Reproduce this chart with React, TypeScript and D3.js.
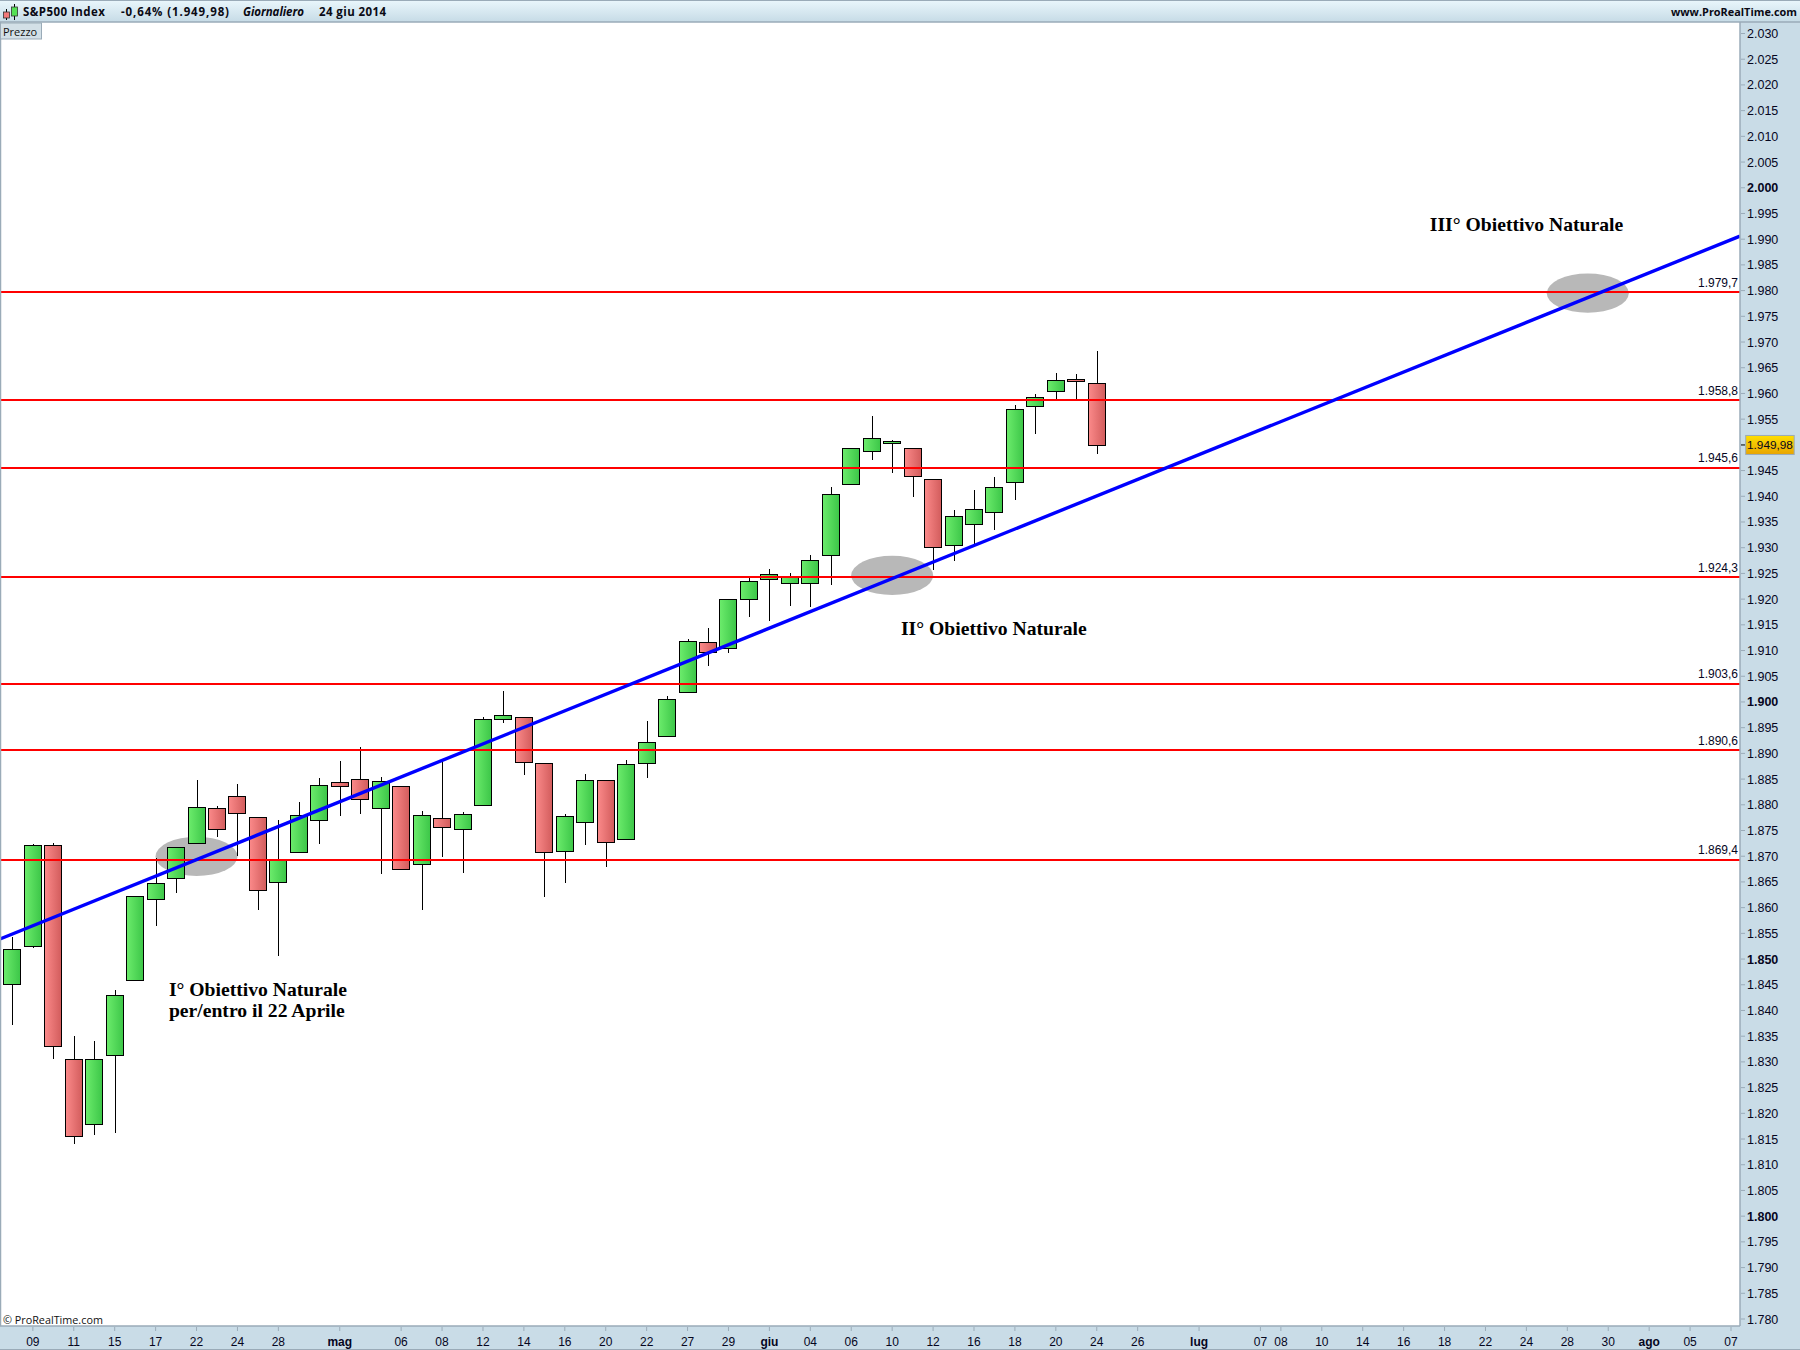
import React from "react";
import * as d3 from "d3";

const W = 1800, H = 1350;

// [open, high, low, close]
const candles: number[][] = [
  [1845.2,1854.35,1837.2,1851.9],[1852.5,1872.3,1852.2,1872.1],[1872.1,1872.5,1830.6,1833.0],
  [1830.5,1835.0,1814.1,1815.5],[1818.0,1834.1,1815.7,1830.5],[1831.3,1844.0,1816.1,1843.0],
  [1845.9,1862.2,1845.9,1862.2],[1861.6,1869.6,1856.5,1864.7],[1865.7,1871.7,1862.9,1871.7],
  [1872.5,1884.8,1872.5,1879.5],[1879.3,1879.7,1873.8,1875.2],[1881.8,1884.0,1870.1,1878.5],
  [1877.6,1877.6,1859.6,1863.4],[1864.9,1877.0,1850.5,1869.2],[1870.8,1880.5,1870.8,1878.1],
  [1877.0,1885.2,1872.4,1883.8],[1884.4,1888.5,1877.8,1883.6],[1885.1,1891.2,1878.3,1881.1],
  [1879.3,1885.4,1866.6,1884.6],[1883.6,1883.6,1867.6,1867.6],[1868.4,1878.8,1859.6,1878.1],
  [1877.4,1889.0,1869.9,1875.6],[1875.2,1878.6,1866.8,1878.3],[1879.9,1897.1,1879.9,1896.6],
  [1896.6,1902.1,1896.0,1897.4],[1897.0,1897.0,1885.7,1888.4],[1888.1,1888.1,1862.1,1870.8],
  [1871.1,1878.2,1864.7,1877.8],[1876.6,1886.0,1872.2,1884.9],[1884.8,1884.8,1868.0,1872.7],
  [1873.3,1888.7,1873.3,1887.9],[1888.1,1896.3,1885.3,1892.3],[1893.3,1901.2,1893.3,1900.5],
  [1901.9,1912.2,1901.9,1911.8],[1911.6,1914.3,1907.0,1909.7],[1910.4,1919.95,1909.6,1919.95],
  [1920.1,1924.2,1916.6,1923.5],[1923.9,1925.9,1915.8,1924.8],[1923.1,1925.1,1918.7,1924.3],
  [1923.1,1928.6,1918.5,1927.7],[1928.5,1941.8,1922.8,1940.4],[1942.3,1949.3,1942.3,1949.3],
  [1948.9,1955.6,1947.1,1951.3],[1950.3,1950.9,1944.6,1950.7],[1949.3,1949.3,1939.9,1943.9],
  [1943.3,1943.3,1925.7,1930.1],[1930.6,1937.3,1927.5,1936.1],[1934.7,1941.2,1930.6,1937.6],
  [1937.0,1943.7,1933.4,1941.9],[1942.7,1957.7,1939.2,1956.9],[1957.5,1959.8,1952.2,1959.4],
  [1960.4,1964.0,1959.0,1962.7],[1962.9,1963.8,1959.0,1962.5],[1962.0,1968.3,1948.3,1949.98],
];

const levels = [1979.7, 1958.8, 1945.6, 1924.3, 1903.6, 1890.6, 1869.4];
const levelLabels = ["1.979,7", "1.958,8", "1.945,6", "1.924,3", "1.903,6", "1.890,6", "1.869,4"];

const trendStart = { i: -0.606, v: 1853.9 };
const trendEnd = { i: 84.44, v: 1990.6 };

const targetIdx = [9, 43, 77];
const targetVal = [1869.95, 1924.6, 1979.5];

const dateIdx = [1,3,5,7,9,11,13,16,19,21,23,25,27,29,31,33,35,37,39,41,43,45,47,49,51,53,55,58,61,62,64,66,68,70,72,74,76,78,80,82,84];
const dateLabels = ["09","11","15","17","22","24","28","mag","06","08","12","14","16","20","22","27","29","giu","04","06","10","12","16","18","20","24","26","lug","07","08","10","14","16","18","22","24","28","30","ago","05","07"];
const monthLabels = ["mag", "giu", "lug", "ago"];

const priceTicks = d3.range(1780, 2031, 5);
const boldPrices = [1800, 1850, 1900, 2000];
const hiddenPrices = [1950];

const notes = [
  { text: "I° Obiettivo Naturale", i: 7.65, v: 1842.8 },
  { text: "per/entro il 22 Aprile", i: 7.65, v: 1838.7 },
  { text: "II° Obiettivo Naturale", i: 43.43, v: 1913.1 },
  { text: "III° Obiettivo Naturale", i: 69.28, v: 1991.6 },
];

const lastPrice = 1949.98;

const PLOT_R = 1740, PLOT_T = 22, PLOT_B = 1326;
const x = d3.scaleLinear().domain([0, 84]).range([12.4, 1731]);
const y = d3.scaleLinear().domain([1780, 2030]).range([1319, 33.5]);
const loc = d3.formatLocale({ decimal: ",", thousands: ".", grouping: [3], currency: ["", ""] });
const fmt = loc.format(",d");

const AXIS_BG = "#c9dce7";
const BORDER = "#9aabb8";
const INK = "#06061e";
const UI_FONT = "'Open Sans', 'DejaVu Sans', sans-serif";
const NUM_FONT = "'Liberation Sans', Arial, sans-serif";
const NOTE_FONT = "'Liberation Serif', 'Times New Roman', serif";

export default function App() {
  const trend = d3.line<{ i: number; v: number }>().x(d => x(d.i)).y(d => y(d.v))([trendStart, trendEnd]) as string;
  return (
    <svg width={W} height={H} viewBox={`0 0 ${W} ${H}`}
      style={{ position: "absolute", left: 0, top: 0, display: "block", background: "#fff" }}>
      <defs>
        <linearGradient id="gUp" x1="0" x2="1" y1="0" y2="0">
          <stop offset="0" stopColor="#6cec6c" /><stop offset="1" stopColor="#3cc648" />
        </linearGradient>
        <linearGradient id="gDn" x1="0" x2="1" y1="0" y2="0">
          <stop offset="0" stopColor="#fb8a8a" /><stop offset="1" stopColor="#d25c5c" />
        </linearGradient>
        <linearGradient id="gHead" x1="0" x2="0" y1="0" y2="1">
          <stop offset="0" stopColor="#eaf7fc" /><stop offset="1" stopColor="#c6dbe6" />
        </linearGradient>
        <linearGradient id="gTag" x1="0" x2="0" y1="0" y2="1">
          <stop offset="0" stopColor="#ffdf00" /><stop offset="1" stopColor="#e8a400" />
        </linearGradient>
      </defs>

      {/* grey target ellipses */}
      {targetIdx.map((t, k) => (
        <ellipse key={k} cx={x(t)} cy={y(targetVal[k])} rx={41} ry={19.6} fill="#b8b8b8" />
      ))}

      {/* candles */}
      {candles.map((c, i) => {
        const [o, h, l, cl] = c;
        const up = cl >= o;
        const top = Math.round(y(Math.max(o, cl))) + 0.5;
        const bot = Math.round(y(Math.min(o, cl))) + 0.5;
        const cx = Math.round(x(i)) + 0.5;
        return (
          <g key={i}>
            <line x1={cx} x2={cx} y1={Math.round(y(h))} y2={Math.round(y(l))} stroke="#000" strokeWidth={1} />
            <rect x={cx - 9} y={top} width={17} height={Math.max(bot - top, 1)}
              fill={`url(#${up ? "gUp" : "gDn"})`} stroke="#000" strokeWidth={1} />
          </g>
        );
      })}

      {/* horizontal levels */}
      {levels.map((lv, k) => (
        <g key={lv}>
          <line x1={1} x2={PLOT_R} y1={Math.round(y(lv) + 0.2)} y2={Math.round(y(lv) + 0.2)} stroke="#ff0000" strokeWidth={2} />
          <text x={1738} y={y(lv) - 5} textAnchor="end" fontFamily={NUM_FONT} fontSize={12} fill={INK}>{levelLabels[k]}</text>
        </g>
      ))}

      {/* trendline */}
      <path d={trend} fill="none" stroke="#0000ff" strokeWidth={3.4} />

      {/* notes */}
      {notes.map(n => (
        <text key={n.text} x={x(n.i)} y={y(n.v)} fontFamily={NOTE_FONT} fontWeight="bold" fontSize={19.65} fill="#000">{n.text}</text>
      ))}

      {/* copyright */}
      <text x={3} y={1324} fontFamily={UI_FONT} fontSize={10.8} fill="#111">© ProRealTime.com</text>

      {/* right axis */}
      <rect x={PLOT_R} y={PLOT_T} width={W - PLOT_R} height={H - PLOT_T} fill={AXIS_BG} />
      {priceTicks.filter(p => !hiddenPrices.includes(p)).map(p => (
        <g key={p}>
          <line x1={1741} x2={1745} y1={y(p)} y2={y(p)} stroke={BORDER} strokeWidth={1} />
          <text x={1747} y={y(p) + 4.5} fontFamily={NUM_FONT} fontSize={12.5}
            fontWeight={boldPrices.includes(p) ? "bold" : "normal"} fill={INK}>{fmt(p)}</text>
        </g>
      ))}

      {/* bottom axis */}
      <rect x={0} y={PLOT_B} width={W} height={H - PLOT_B} fill={AXIS_BG} />
      {dateIdx.map((d, k) => {
        const isMonth = monthLabels.includes(dateLabels[k]);
        return (
          <g key={k}>
            <line x1={x(d)} x2={x(d)} y1={PLOT_B + 1} y2={PLOT_B + 5} stroke={BORDER} strokeWidth={1} />
            <text x={x(d)} y={1346} textAnchor="middle" fontFamily={NUM_FONT} fontSize={12}
              fontWeight={isMonth ? "bold" : "normal"} fill={INK}>{dateLabels[k]}</text>
          </g>
        );
      })}

      {/* plot borders */}
      <line x1={PLOT_R} x2={PLOT_R} y1={PLOT_T} y2={PLOT_B} stroke={BORDER} strokeWidth={1.5} />
      <line x1={0} x2={PLOT_R} y1={PLOT_B} y2={PLOT_B} stroke={BORDER} strokeWidth={1.5} />
      <line x1={0.5} x2={0.5} y1={PLOT_T} y2={PLOT_B} stroke={BORDER} strokeWidth={1.5} />
      <line x1={0} x2={W} y1={H - 0.5} y2={H - 0.5} stroke={BORDER} strokeWidth={1} />

      {/* last price tag */}
      <line x1={1741} x2={1745} y1={y(lastPrice)} y2={y(lastPrice)} stroke="#000" strokeWidth={1} />
      <rect x={1745.7} y={y(lastPrice) - 9.5} width={48.5} height={19} fill="url(#gTag)" stroke={BORDER} strokeWidth={1} />
      <text x={1747} y={y(lastPrice) + 4.5} fontFamily={NUM_FONT} fontSize={11.8} fill={INK}>{loc.format(",.2f")(lastPrice)}</text>

      {/* header */}
      <rect x={0} y={0} width={W} height={22} fill="url(#gHead)" />
      <line x1={0} x2={W} y1={22} y2={22} stroke={BORDER} strokeWidth={1.5} />
      <line x1={0} x2={W} y1={0.5} y2={0.5} stroke={BORDER} strokeWidth={1} />
      <line x1={6.5} x2={6.5} y1={9} y2={20} stroke="#000" strokeWidth={1} />
      <rect x={3.5} y={12} width={6} height={6} fill="#f27878" stroke="#333" strokeWidth={0.8} />
      <line x1={14.5} x2={14.5} y1={4} y2={20} stroke="#000" strokeWidth={1} />
      <rect x={11.5} y={7} width={6} height={9} fill="#55e055" stroke="#333" strokeWidth={0.8} />
      <g fontFamily={UI_FONT} fontSize={11.5} fontWeight="bold" fill="#0a0a14">
        <text x={23} y={16} textLength={82} lengthAdjust="spacing">S&amp;P500 Index</text>
        <text x={121} y={16} textLength={108} lengthAdjust="spacing">-0,64% (1.949,98)</text>
        <text x={243} y={16} fontStyle="italic" textLength={61} lengthAdjust="spacing">Giornaliero</text>
        <text x={319} y={16} textLength={67} lengthAdjust="spacing">24 giu 2014</text>
        <text x={1797} y={16} fontSize={10.9} textAnchor="end">www.ProRealTime.com</text>
      </g>

      {/* Prezzo button */}
      <rect x={0.5} y={23} width={41} height={16} fill="#d3e0e7" stroke={BORDER} strokeWidth={1} />
      <text x={3} y={36} fontFamily={UI_FONT} fontSize={11} fill="#111">Prezzo</text>
    </svg>
  );
}
